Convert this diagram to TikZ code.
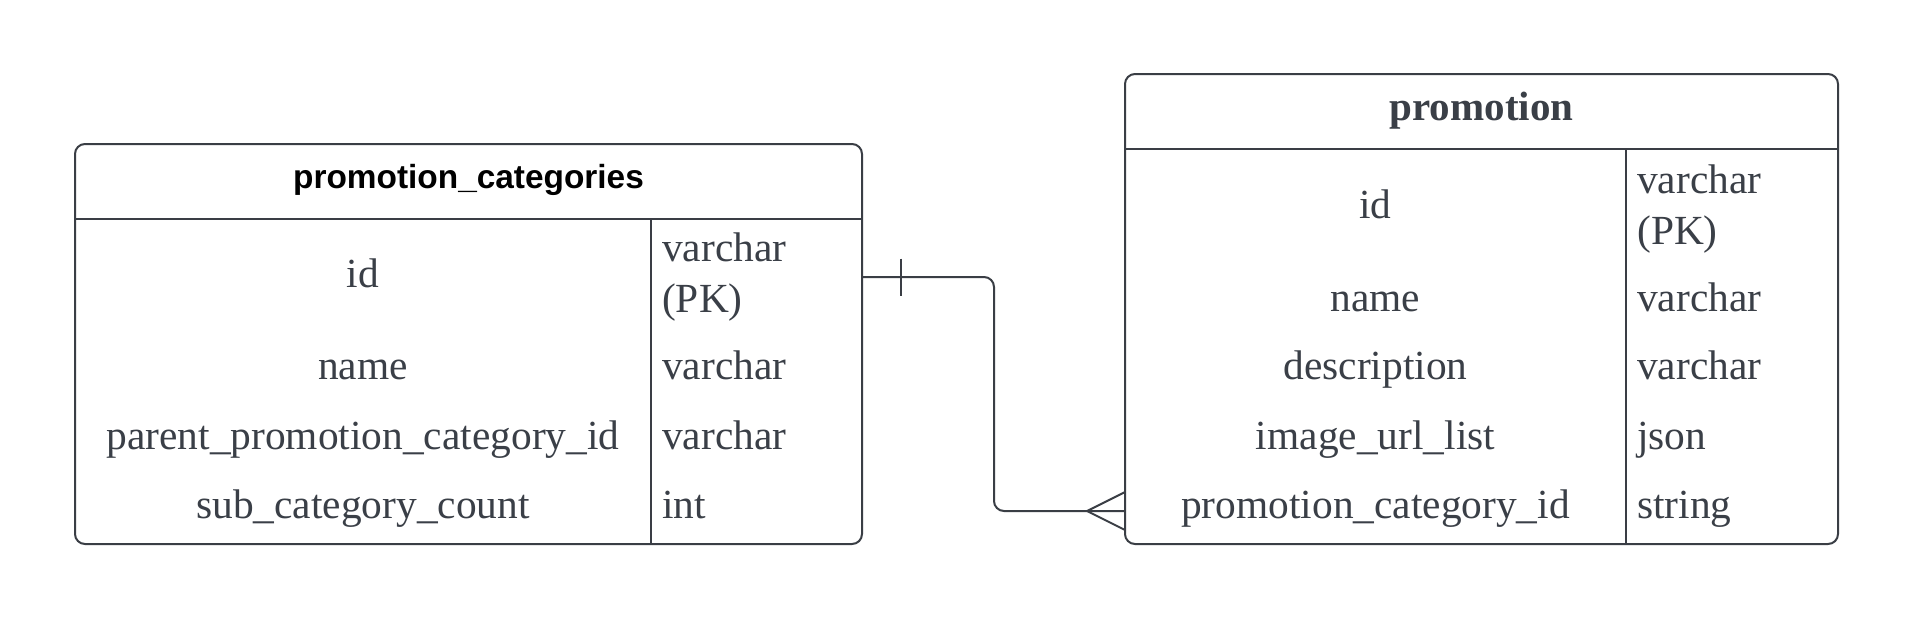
\documentclass[tikz,border=0pt]{standalone}
\usepackage{fontspec}
\setmainfont{Liberation Serif}
\newfontfamily\hdsans{Liberation Sans}
\definecolor{edge}{HTML}{3A3E45}
\definecolor{ink}{HTML}{3A3F47}
\begin{document}
\begin{tikzpicture}[x=1pt,y=-1pt,
  ln/.style={draw=edge, line width=1.8pt},
  tablebox/.style={draw=edge, line width=2pt, rounded corners=10pt, inner sep=0pt},
  cell/.style={text=ink, inner sep=0pt, font=\fontsize{41.4}{51}\selectfont},
  fieldname/.style={cell, anchor=base},
  fieldtype/.style={cell, anchor=base west},
  conn/.style={draw=edge, line width=2pt}]
\useasboundingbox[fill=white] (0,0) rectangle (1913,621);

% ---- table promotion_categories ----
\node[tablebox, minimum width=787pt, minimum height=400pt] (pc) at (468.5,344) {};
\draw[ln] (75,219) -- (862,219);
\draw[ln] (651,219) -- (651,544);
\node[anchor=base, inner sep=0pt, font=\hdsans\bfseries\fontsize{33.4}{40}\selectfont] (pch) at (468.5,188) {promotion\_categories};
\node[fieldname] (pc1n) at (363,287) {id};
\node[fieldtype] (pc1t) at (662,261) {varchar};
\node[fieldtype] (pc1k) at (662,312) {(PK)};
\node[fieldname] (pc2n) at (363,379) {name};
\node[fieldtype] (pc2t) at (662,379) {varchar};
\node[fieldname] (pc3n) at (363,449) {parent\_promotion\_category\_id};
\node[fieldtype] (pc3t) at (662,449) {varchar};
\node[fieldname] (pc4n) at (363,518) {sub\_category\_count};
\node[fieldtype] (pc4t) at (662,518) {int};

% ---- table promotion ----
\node[tablebox, minimum width=713pt, minimum height=470pt] (pr) at (1481.5,309) {};
\draw[ln] (1125,149) -- (1838,149);
\draw[ln] (1626,149) -- (1626,544);
\node[anchor=base, inner sep=0pt, text=ink, font=\bfseries\fontsize{41}{50}\selectfont] (prh) at (1481.5,120.5) {promotion};
\node[fieldname] (pr1n) at (1375.5,218) {id};
\node[fieldtype] (pr1t) at (1637,193) {varchar};
\node[fieldtype] (pr1k) at (1637,244) {(PK)};
\node[fieldname] (pr2n) at (1375.5,311) {name};
\node[fieldtype] (pr2t) at (1637,311) {varchar};
\node[fieldname] (pr3n) at (1375.5,379) {description};
\node[fieldtype] (pr3t) at (1637,379) {varchar};
\node[fieldname] (pr4n) at (1375.5,449) {image\_url\_list};
\node[fieldtype] (pr4t) at (1637,449) {json};
\node[fieldname] (pr5n) at (1375.5,518) {promotion\_category\_id};
\node[fieldtype] (pr5t) at (1637,518) {string};

% ---- relationship ----
\coordinate (pcE) at (862,277);
\coordinate (prW) at (1125,511);
\coordinate (bend) at (994,0);
\draw[conn, rounded corners=10pt] (pcE) -- (pcE -| bend) -- (prW -| bend) -- (prW);
% one (tick)
\draw[conn] ([xshift=39pt,yshift=18.5pt]pcE) -- ([xshift=39pt,yshift=-18.5pt]pcE);
% many (crow's foot)
\draw[conn] ([yshift=19pt]prW) -- ([xshift=-38pt]prW) -- ([yshift=-19pt]prW);
\end{tikzpicture}
\end{document}
